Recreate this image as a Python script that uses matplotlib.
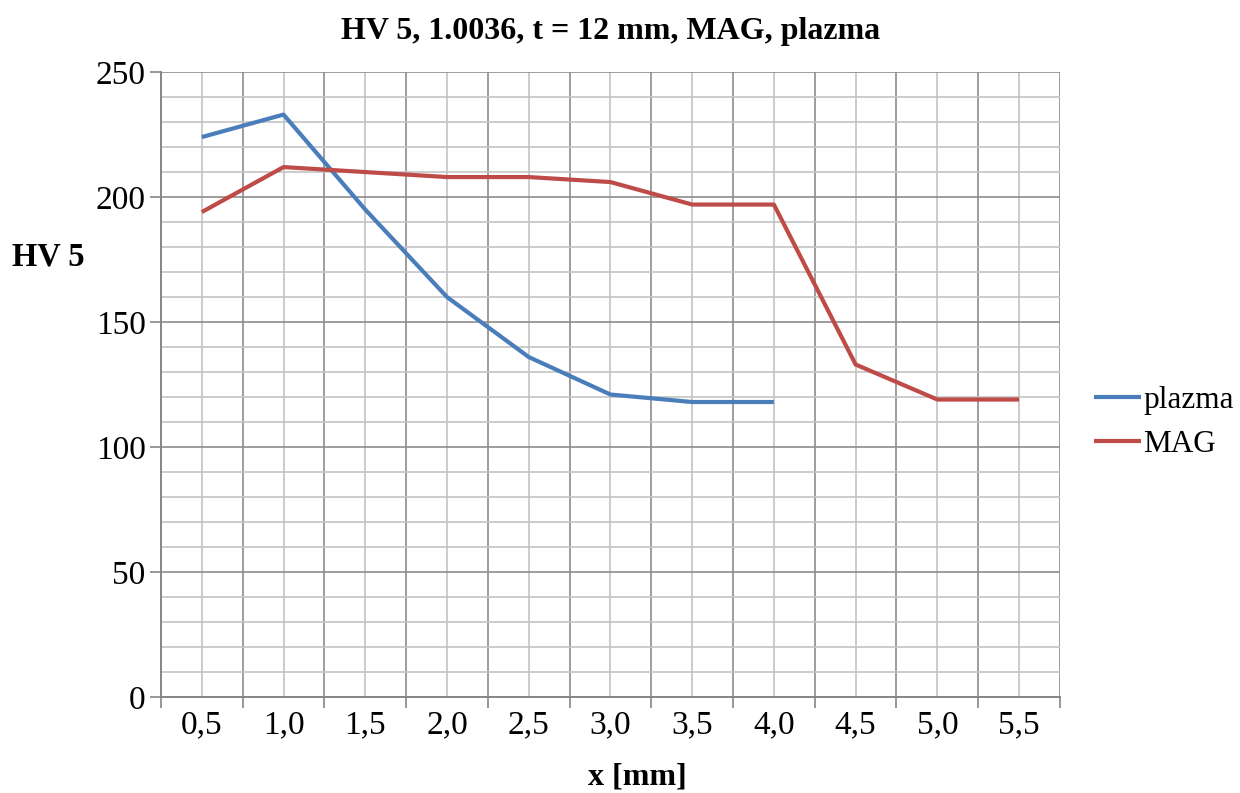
import matplotlib.pyplot as plt
import numpy as np

# x positions in mm (category axis, Excel style)
categories = ["0,5", "1,0", "1,5", "2,0", "2,5", "3,0", "3,5", "4,0", "4,5", "5,0", "5,5"]
plazma = [224, 233, 195, 160, 136, 121, 118, 118]
mag = [194, 212, 210, 208, 208, 206, 197, 197, 133, 119, 119]

plt.rcParams["font.family"] = ["Liberation Serif", "DejaVu Serif"]

fig = plt.figure(figsize=(12.4, 7.93), dpi=100)
ax = fig.add_axes([0.1298, 0.1211, 0.725, 0.788])

x_all = np.arange(len(categories))
ax.plot(x_all[:len(plazma)], plazma, color="#4A7EBB", lw=3.0, label="plazma",
        solid_capstyle="butt", zorder=3)
ax.plot(x_all[:len(mag)], mag, color="#BE4B48", lw=3.0, label="MAG",
        solid_capstyle="butt", zorder=3)

ax.set_xlim(-0.5, len(categories) - 0.5)
ax.set_ylim(0, 250)

# category boundaries = major ticks, centers = minor ticks with labels
ax.set_xticks(np.arange(-0.5, len(categories), 1.0))
ax.set_xticklabels([])
ax.set_xticks(x_all, minor=True)
ax.set_xticklabels(categories, minor=True)
ax.tick_params(axis="x", which="major", length=8, width=1.2, color="#868686", direction="out")
ax.tick_params(axis="x", which="minor", length=0, pad=9, labelsize=24)

ax.set_yticks(np.arange(0, 251, 50))
ax.set_yticks(np.arange(0, 251, 10), minor=True)
ax.tick_params(axis="y", which="major", length=8, width=1.2, color="#868686",
               direction="out", pad=3, labelsize=24)
ax.tick_params(axis="y", which="minor", length=0)

ax.grid(True, which="major", axis="both", color="#8C8C8C", lw=1.2)
ax.grid(True, which="minor", axis="both", color="#C4C4C4", lw=1.2)
ax.set_axisbelow(True)

for side in ["top", "right"]:
    ax.spines[side].set_visible(False)
for side in ["left", "bottom"]:
    ax.spines[side].set_color("#868686")
    ax.spines[side].set_linewidth(1.4)

ax.set_title("HV 5, 1.0036, t = 12 mm, MAG, plazma", fontsize=23, fontweight="bold", pad=24)
fig.text(0.010, 0.676, "HV 5", fontsize=23.5, fontweight="bold", ha="left", va="center")
fig.text(0.514, 0.020, "x [mm]", fontsize=23, fontweight="bold", ha="center", va="center")

ax.legend(loc="center left", bbox_to_anchor=(1.038, 0.44), frameon=False, fontsize=22.5,
          handlelength=1.5, handletextpad=0.08, labelspacing=0.48, borderaxespad=0,
          borderpad=0)

fig.savefig("out.png", dpi=100)
